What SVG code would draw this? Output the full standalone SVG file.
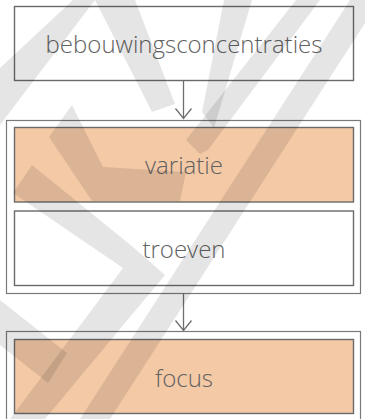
<svg xmlns="http://www.w3.org/2000/svg" width="365" height="419" viewBox="0 0 365 419">
  <defs>
    <style>
      .box { stroke: #6a6a6a; stroke-width: 1.4; }
      .plain { fill: #ffffff; }
      .accent { fill: #f4c9a6; }
      .frame { fill: #ffffff; stroke: #7a7a7a; stroke-width: 1.2; }
      .label { font-family: "Open Sans", "Liberation Sans", sans-serif; font-weight: 300; font-size: 24px; fill: #626262; text-anchor: middle; }
      .conn { stroke: #6e6e6e; stroke-width: 1.3; fill: none; }
      .mark { fill: #000000; fill-opacity: 0.1; }
    </style>
  </defs>

  <rect width="365" height="419" fill="#ffffff"/>

  <!-- containers -->
  <rect id="group-analysis" class="frame" x="6.5" y="120.5" width="354" height="173"/>
  <rect id="group-result" class="frame" x="6.5" y="331.5" width="354" height="100"/>

  <g id="connectors">
    <path class="conn" d="M183.5,80.5 V118.5" />
    <path class="conn" d="M175.5,108.5 L183.5,118.5 L191.5,108.5" />
    <path class="conn" d="M183.5,293.5 V330.5" />
    <path class="conn" d="M175.5,320.5 L183.5,330.5 L191.5,320.5" />
  </g>

  <g id="node-bebouwingsconcentraties">
    <rect class="box plain" x="14.5" y="6.5" width="339" height="74"/>
    <text class="label" x="184" y="53">bebouwingsconcentraties</text>
  </g>

  <g id="node-variatie">
    <rect class="box accent" x="14.5" y="127.5" width="339" height="74.5"/>
    <text class="label" x="184" y="174">variatie</text>
  </g>

  <g id="node-troeven">
    <rect class="box plain" x="14.5" y="211" width="339" height="74.5"/>
    <text class="label" x="184" y="258">troeven</text>
  </g>

  <g id="node-focus">
    <rect class="box accent" x="14.5" y="339.5" width="339" height="74"/>
    <text class="label" x="184" y="387">focus</text>
  </g>

  <!-- faint logo bands laid over the whole sheet -->
  <g id="backdrop-mark">
    <polygon class="mark" points="73,0 95,0 0,125 0,68"/>
    <polygon class="mark" points="95,0 135,0 175,104 152,112"/>
    <polygon class="mark" points="224,0 252,0 214,128 202,112"/>
    <polygon class="mark" points="49,137 72,105 103,167 186,172 180,201 92,201"/>
    <polygon class="mark" points="32,165 133,247 123,268 13,193"/>
    <polygon class="mark" points="123,268 133,247 165,275 45,419 10,419"/>
    <polygon class="mark" points="296,0 320,0 208,150 200,154 186,140"/>
    <polygon class="mark" points="350,0 380,0 110,419 80,419"/>
    <polygon class="mark" points="0,300 67,353 48,383 0,345"/>
  </g>
</svg>
